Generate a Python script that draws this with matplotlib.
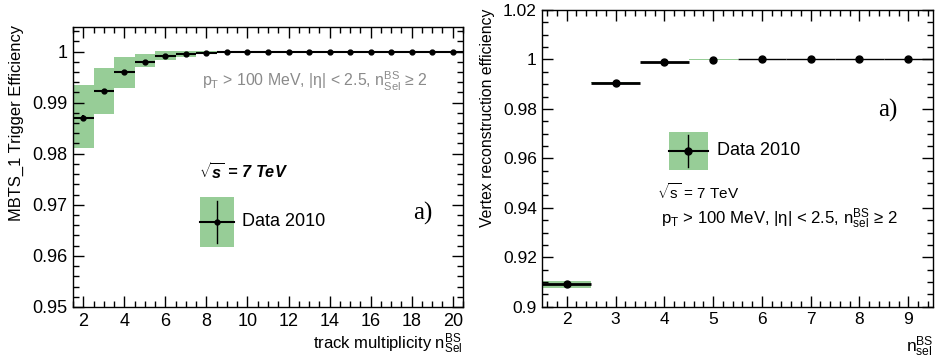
import matplotlib
matplotlib.use("Agg")
import matplotlib.pyplot as plt
from matplotlib.ticker import MultipleLocator, FormatStrFormatter
from matplotlib.patches import Rectangle
import numpy as np

plt.rcParams["font.family"] = ["Liberation Sans", "DejaVu Sans"]
plt.rcParams["mathtext.fontset"] = "custom"
plt.rcParams["mathtext.rm"] = "Liberation Sans"
plt.rcParams["mathtext.it"] = "Liberation Sans:italic"
plt.rcParams["mathtext.bf"] = "Liberation Sans:bold:italic"

GREEN = "#97cd97"

# left panel: MBTS_1 trigger efficiency vs track multiplicity
n_left = list(range(2, 21))
eff_left = [0.9870, 0.9923, 0.9960, 0.9980, 0.9992, 0.9995, 0.9997, 0.9999] + [1.0] * 11
stat_left = [0.0006, 0.0003, 0.0001, 0.0001, 0.0001, 0.00005, 0.00005, 0.00003] + [0.0] * 11
syst_lo_left = [0.9812, 0.9877, 0.9929, 0.9969, 0.9984, 0.9990, 0.9995, 0.9998] + [1.0] * 11
syst_hi_left = [0.9935, 0.9968, 0.9990, 0.9995, 1.0001, 1.0001, 1.0001, 1.0001] + [1.0] * 11

# right panel: vertex reconstruction efficiency vs n_sel
n_right = [2, 3, 4, 5, 6, 7, 8, 9]
eff_right = [0.9090, 0.9906, 0.9990, 0.9999, 1.0, 1.0, 1.0, 1.0]
syst_lo_right = [0.9077, 0.9903, 0.9990, 0.9998, 1.0, 1.0, 1.0, 1.0]
syst_hi_right = [0.9104, 0.9909, 0.9990, 1.0001, 1.0, 1.0, 1.0, 1.0]

cut_left = (r"p$_{\mathregular{T}}$ > 100 MeV, |η| < 2.5, "
            r"n$^{\mathregular{BS}}_{\mathregular{Sel}}$ ≥ 2")
cut_right = (r"p$_{\mathregular{T}}$ > 100 MeV, |η| < 2.5, "
             r"n$^{\mathregular{BS}}_{\mathregular{sel}}$ ≥ 2")


def style_axes(ax, major_len=8, minor_len=4, size=13):
    ax.tick_params(which="both", direction="in", top=True, right=True, width=1,
                   labelsize=size, pad=4)
    ax.tick_params(which="major", length=major_len)
    ax.tick_params(which="minor", length=minor_len)
    for s in ax.spines.values():
        s.set_linewidth(1)


def legend_box(ax, x0, y0, w, h, ms):
    ax.add_patch(Rectangle((x0, y0), w, h, transform=ax.transAxes,
                           facecolor=GREEN, edgecolor="none", zorder=5))
    xc, yc = x0 + w / 2, y0 + h / 2
    ax.plot([x0, x0 + w], [yc, yc], transform=ax.transAxes, color="k", lw=1.5, zorder=6)
    ax.plot([xc, xc], [y0 + 0.08 * h, y0 + 0.92 * h], transform=ax.transAxes,
            color="k", lw=1, zorder=6)
    ax.plot([xc], [yc], "o", color="k", ms=ms, transform=ax.transAxes, zorder=7)


fig = plt.figure(figsize=(9.37, 3.63), dpi=100)

# ---- left ----
ax1 = fig.add_axes([0.0779, 0.1543, 0.4162, 0.7713])
lo = np.array(syst_lo_left)
hi = np.array(syst_hi_left)
ax1.bar(n_left, hi - lo, bottom=lo, width=1.0, color=GREEN, edgecolor="none", zorder=1)
ax1.errorbar(n_left, eff_left, xerr=0.5, yerr=stat_left, fmt="o", color="k",
             ms=3.5, lw=1.5, capsize=0, zorder=3)
ax1.set_xlim(1.5, 20.5)
ax1.set_ylim(0.95, 1.0048)
ax1.xaxis.set_major_locator(MultipleLocator(2))
ax1.xaxis.set_minor_locator(MultipleLocator(0.5))
ax1.yaxis.set_major_locator(MultipleLocator(0.01))
ax1.yaxis.set_minor_locator(MultipleLocator(0.002))
ax1.yaxis.set_major_formatter(FormatStrFormatter("%g"))
style_axes(ax1, 8, 4, 13)

fig.text(0.018, 0.93, "MBTS_1 Trigger Efficiency", rotation=90, ha="center",
         va="top", fontsize=11.9)
fig.text(0.494, 0.02, r"track multiplicity n$^{\mathregular{BS}}_{\mathregular{Sel}}$",
         ha="right", va="bottom", fontsize=12)

ax1.text(0.33, 0.805, cut_left, transform=ax1.transAxes, color="#8a8a8a",
         fontsize=11.4, va="center", ha="left")
ax1.text(0.324, 0.481, r"$\sqrt{\mathbf{s}}$ = 7 TeV", transform=ax1.transAxes,
         fontsize=11.7, fontweight="bold", style="italic", va="center")
legend_box(ax1, 0.3256, 0.215, 0.088, 0.177, 3.5)
ax1.text(0.434, 0.304, "Data 2010", transform=ax1.transAxes, fontsize=13, va="center")
ax1.text(0.873, 0.335, "a)", transform=ax1.transAxes, fontsize=18,
         family="Liberation Serif", va="center")

# ---- right ----
ax2 = fig.add_axes([0.5788, 0.155, 0.4166, 0.8175])
lo = np.array(syst_lo_right)
hi = np.array(syst_hi_right)
ax2.bar(n_right, hi - lo, bottom=lo, width=1.0, color=GREEN, edgecolor="none", zorder=1)
ax2.errorbar(n_right[:3], eff_right[:3], xerr=0.5, fmt="o", color="k",
             ms=5, lw=2, capsize=0, zorder=3)
ax2.errorbar(n_right[4:], eff_right[4:], xerr=0.5, fmt="o", color="k",
             ms=5, lw=1, capsize=0, zorder=3)
ax2.plot(n_right[3:4], eff_right[3:4], "o", color="k", ms=5, zorder=3)
ax2.set_xlim(1.5, 9.5)
ax2.set_ylim(0.9, 1.02)
ax2.xaxis.set_major_locator(MultipleLocator(1))
ax2.xaxis.set_minor_locator(MultipleLocator(0.2))
ax2.yaxis.set_major_locator(MultipleLocator(0.02))
ax2.yaxis.set_minor_locator(MultipleLocator(0.005))
ax2.yaxis.set_major_formatter(FormatStrFormatter("%g"))
style_axes(ax2, 8, 4, 12.5)

fig.text(0.52, 0.975, "Vertex reconstruction efficiency", rotation=90, ha="center",
         va="top", fontsize=11.3)
fig.text(0.996, 0.01, r"n$^{\mathregular{BS}}_{\mathregular{sel}}$",
         ha="right", va="bottom", fontsize=12.5)

legend_box(ax2, 0.3245, 0.461, 0.099, 0.129, 5)
ax2.text(0.447, 0.526, "Data 2010", transform=ax2.transAxes, fontsize=13, va="center")
ax2.text(0.295, 0.388, r"$\sqrt{\mathregular{s}}$ = 7 TeV", transform=ax2.transAxes,
         fontsize=11, va="center")
ax2.text(0.303, 0.298, cut_right, transform=ax2.transAxes, fontsize=12.1, va="center")
ax2.text(0.861, 0.663, "a)", transform=ax2.transAxes, fontsize=18,
         family="Liberation Serif", va="center")

fig.savefig("out.png", dpi=100)
